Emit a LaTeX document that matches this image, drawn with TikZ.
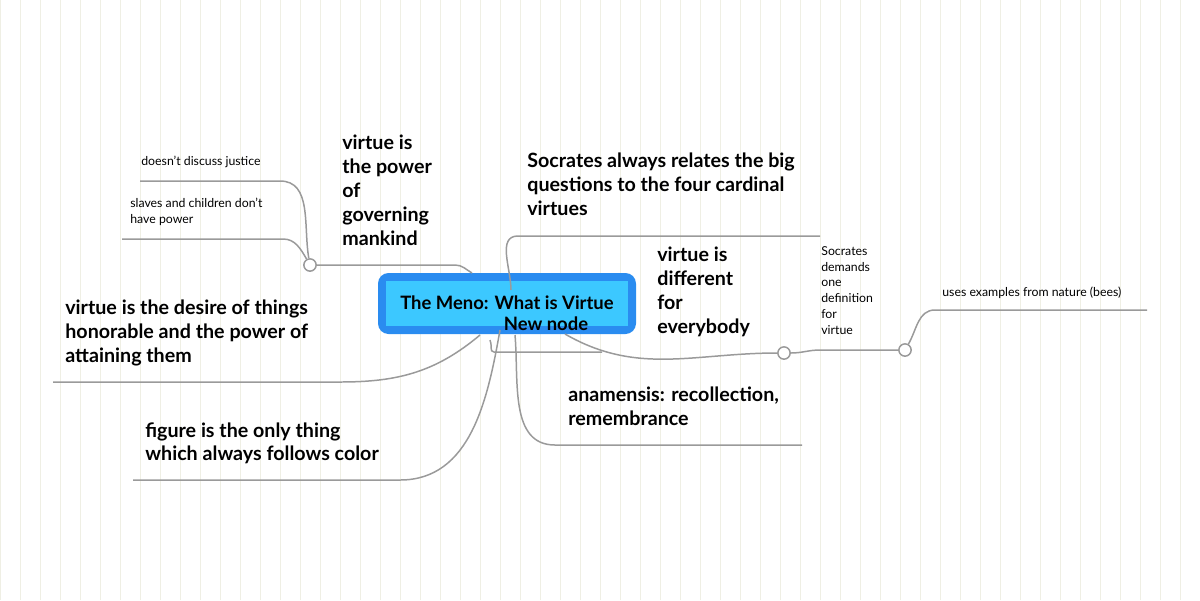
\documentclass[tikz,border=0pt]{standalone}
\usepackage{fontspec}
\setmainfont{Lato}
\usetikzlibrary{positioning}
\definecolor{gridc}{HTML}{EFEFE4}
\definecolor{linkc}{HTML}{9A9A9A}
\definecolor{rootblue}{HTML}{2A8CF0}
\definecolor{rootcyan}{HTML}{3CC8FF}
\tikzset{
  big/.style={anchor=north west,inner sep=0pt,align=left,font=\fontsize{11.2}{13.6}\selectfont\bfseries},
  small/.style={anchor=north west,inner sep=0pt,align=left,font=\fontsize{7}{9}\selectfont},
  link/.style={draw=linkc,line width=0.85pt},
  knob/.style={circle,draw=linkc,fill=white,line width=0.85pt,minimum size=7pt,inner sep=0pt}
}
\begin{document}
\begin{tikzpicture}[x=0.02cm,y=-0.02cm]
\useasboundingbox (0,0) rectangle (1200,600);
\draw[gridc,line width=0.4pt,step=20] (0,0) grid (1200,600);

% root
\fill[rootblue,rounded corners=6pt] (378,273) rectangle (636,334);
\fill[rootcyan] (386,281) rectangle (628,326);
\node[inner sep=0pt,font=\fontsize{10.5}{12}\selectfont\bfseries] (root) at (507,303) {The Meno: What is Virtue};
\node[inner sep=0pt,font=\fontsize{10.5}{12}\selectfont\bfseries] (newnode) at (546,324) {New node};

% left side
\node[big] (power) at (342,135) {virtue is\\the power\\of\\governing\\mankind};
\node[knob] (k1) at (310,265) {};
\draw[link] (k1) -- (455,265) to[out=0,in=150] (472,273);
\node[small] (justice) at (141,156) {doesn't discuss justice};
\draw[link] (k1) to[out=100,in=0] (280,181) -- (140,181);
\node[small] (slaves) at (130,198) {slaves and children don't\\have power};
\draw[link] (k1) to[out=120,in=0] (283,239) -- (122,239);

\node[big] (desire) at (65,300) {virtue is the desire of things\\honorable and the power of\\attaining them};
\draw[link] (53,382) -- (340,382) to[out=0,in=-140] (480,335);

\node[big] (figure) at (145,422) {figure is the only thing\\which always follows color};
\draw[link] (133,480) -- (400,480) to[out=0,in=-100] (500,330);

% right side
\node[big] (cardinal) at (527,153) {Socrates always relates the big\\questions to the four cardinal\\virtues};
\draw[link] (820,236) -- (518,236) to[out=180,in=90] (511,290);

\node[big] (different) at (657,247) {virtue is\\different\\for\\everybody};
\draw[link] (602,352) -- (494,352) to[out=180,in=-60] (490,340);
\node[knob] (k2) at (784,353) {};
\draw[link] (565,334) to[out=-30,in=180] (k2);

\node[small] (demands) at (821,246) {Socrates\\demands\\one\\definition\\for\\virtue};
\node[knob] (k3) at (905,350) {};
\draw[link] (k2) to[out=0,in=180] (820,350) -- (k3);
\node[small] (bees) at (942,287) {uses examples from nature (bees)};
\draw[link] (k3) to[out=60,in=180] (935,310) -- (1147,310);

\node[big] (anam) at (568,387) {anamensis: recollection,\\remembrance};
\draw[link] (802,445) -- (555,445) to[out=180,in=-85] (515,335);
\end{tikzpicture}
\end{document}
